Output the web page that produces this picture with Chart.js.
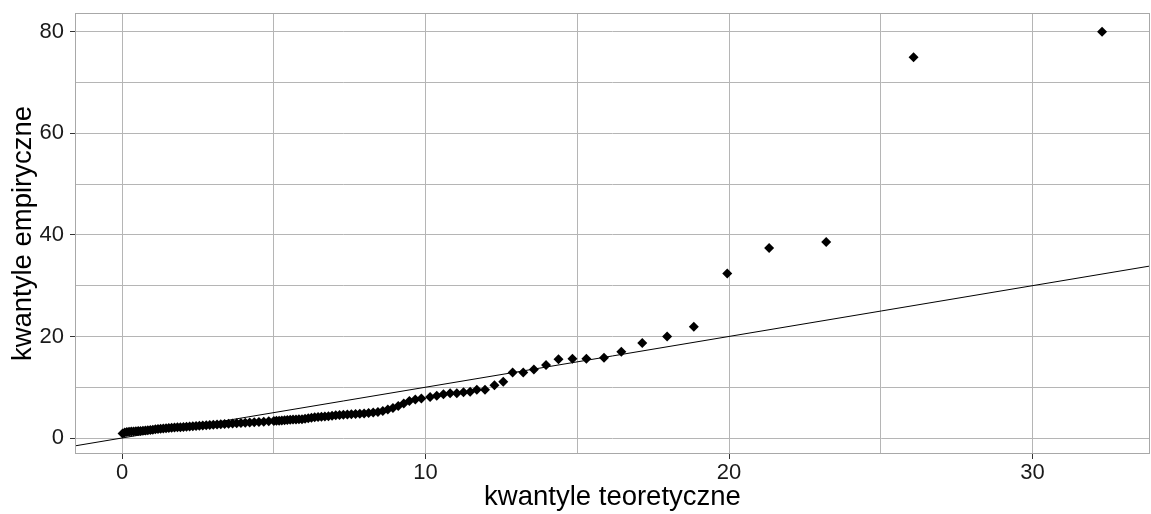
<!DOCTYPE html>
<html>
<head>
<meta charset="utf-8">
<script src="https://cdn.jsdelivr.net/npm/chart.js@4"></script>
<style>
  html, body { margin: 0; padding: 0; background: #fff; }
  #wrap { width: 1151px; height: 514px; }
</style>
</head>
<body>
<div id="wrap"><canvas id="qq" width="1151" height="514"></canvas></div>
<script>
// theoretical quantiles (x)
const xTheo = [
  0.018, 0.088, 0.160, 0.232, 0.306, 0.380, 0.456, 0.532, 0.609, 0.688,
  0.768, 0.849, 0.931, 1.014, 1.099, 1.184, 1.272, 1.360, 1.450, 1.541,
  1.634, 1.729, 1.825, 1.923, 2.022, 2.124, 2.227, 2.332, 2.439, 2.549,
  2.660, 2.774, 2.890, 3.008, 3.130, 3.253, 3.380, 3.509, 3.642, 3.778,
  3.917, 4.059, 4.206, 4.356, 4.511, 4.670, 4.833, 5.002, 5.088, 5.175,
  5.264, 5.354, 5.446, 5.540, 5.634, 5.731, 5.829, 5.929, 6.031, 6.135,
  6.240, 6.348, 6.458, 6.570, 6.684, 6.801, 6.920, 7.042, 7.166, 7.293,
  7.424, 7.557, 7.694, 7.834, 7.977, 8.125, 8.276, 8.432, 8.592, 8.756,
  8.926, 9.101, 9.282, 9.468, 9.662, 9.862,
  10.15, 10.37, 10.59, 10.81, 11.03, 11.25, 11.47, 11.69, 11.96, 12.27,
  12.56, 12.87, 13.22, 13.57, 13.97, 14.38, 14.84, 15.30, 15.88, 16.45,
  17.14, 17.96, 18.84, 19.94, 21.32, 23.20, 26.08, 32.29
];
// empirical quantiles (y)
const yEmp = [
  0.9, 1.1, 1.2, 1.25, 1.3, 1.3, 1.35, 1.4, 1.4, 1.45,
  1.5, 1.55, 1.6, 1.65, 1.7, 1.75, 1.8, 1.85, 1.9, 1.95,
  2.0, 2.05, 2.1, 2.1, 2.15, 2.2, 2.25, 2.3, 2.35, 2.4,
  2.45, 2.5, 2.55, 2.6, 2.65, 2.7, 2.75, 2.8, 2.85, 2.9,
  2.95, 3.0, 3.05, 3.1, 3.15, 3.2, 3.3, 3.35, 3.38, 3.4,
  3.45, 3.5, 3.55, 3.6, 3.62, 3.65, 3.68, 3.7, 3.8, 3.9,
  4.0, 4.1, 4.15, 4.2, 4.25, 4.3, 4.4, 4.5, 4.55, 4.6,
  4.65, 4.7, 4.75, 4.8, 4.85, 4.9, 5.0, 5.1, 5.3, 5.6,
  5.9, 6.3, 6.8, 7.3, 7.6, 7.8,
  8.1, 8.3, 8.6, 8.8, 8.8, 9.0, 9.1, 9.5, 9.5, 10.4,
  11.1, 12.9, 12.9, 13.5, 14.4, 15.5, 15.6, 15.6, 15.8, 17.0,
  18.7, 20.0, 21.9, 32.4, 37.4, 38.6, 75.0, 80.0
];
// reference line y = x (clipped to the panel)
const lineX = [-5, 40];
const lineY = [-5, 40];

const xTicks = [0, 10, 20, 30];
const yTicks = [0, 20, 40, 60, 80];

const points = xTheo.map((x, i) => ({ x: x, y: yEmp[i] }));
const refLine = lineX.map((x, i) => ({ x: x, y: lineY[i] }));

// grey border round the plotting panel
const panelBorder = {
  id: 'panelBorder',
  afterDraw(chart) {
    const a = chart.chartArea;
    const ctx = chart.ctx;
    ctx.save();
    ctx.strokeStyle = '#a8a8a8';
    ctx.lineWidth = 1;
    ctx.strokeRect(a.left + 0.5, a.top + 0.5, a.right - a.left - 1, a.bottom - a.top - 1);
    ctx.restore();
  }
};

const tickFont = { family: 'Liberation Sans, Arial, sans-serif', size: 22 };
const titleFont = { family: 'Liberation Sans, Arial, sans-serif', size: 27.5 };

new Chart(document.getElementById('qq').getContext('2d'), {
  type: 'scatter',
  data: {
    datasets: [
      {
        type: 'line',
        data: refLine,
        borderColor: '#000',
        borderWidth: 1,
        pointRadius: 0,
        fill: false
      },
      {
        data: points,
        backgroundColor: '#000',
        borderColor: '#000',
        borderWidth: 0,
        pointStyle: 'rectRot',
        pointRadius: 5,
        pointHoverRadius: 5
      }
    ]
  },
  options: {
    responsive: false,
    animation: false,
    devicePixelRatio: 1,
    layout: { autoPadding: false, padding: { top: 13, right: 1, left: 0, bottom: 0 } },
    plugins: {
      legend: { display: false },
      tooltip: { enabled: false }
    },
    scales: {
      x: {
        type: 'linear',
        min: -1.55,
        max: 33.87,
        afterFit: (s) => { s.height = 60; s.paddingLeft = 0; s.paddingRight = 0; },
        border: { display: false },
        grid: {
          color: '#b5b5b5',
          lineWidth: 1,
          tickLength: 5,
          tickColor: (c) => xTicks.includes(c.tick.value) ? '#333' : 'rgba(0,0,0,0)'
        },
        ticks: {
          stepSize: 5,
          includeBounds: false,
          maxRotation: 0,
          padding: 1,
          color: '#1a1a1a',
          font: tickFont,
          callback: (v) => xTicks.includes(v) ? String(v) : ''
        },
        title: {
          display: true,
          text: 'kwantyle teoretyczne',
          color: '#000',
          font: titleFont,
          padding: { top: 0, bottom: 0 }
        }
      },
      y: {
        type: 'linear',
        min: -3.15,
        max: 83.7,
        afterFit: (s) => { s.width = 75; s.paddingTop = 0; s.paddingBottom = 0; },
        border: { display: false },
        grid: {
          color: '#b5b5b5',
          lineWidth: 1,
          tickLength: 5,
          tickColor: (c) => yTicks.includes(c.tick.value) ? '#333' : 'rgba(0,0,0,0)'
        },
        ticks: {
          stepSize: 10,
          includeBounds: false,
          padding: 6,
          color: '#1a1a1a',
          font: tickFont,
          callback: (v) => yTicks.includes(v) ? String(v) : ''
        },
        title: {
          display: true,
          text: 'kwantyle empiryczne',
          color: '#000',
          font: titleFont,
          padding: { top: 7, bottom: 0 }
        }
      }
    }
  },
  plugins: [panelBorder]
});
</script>
</body>
</html>
